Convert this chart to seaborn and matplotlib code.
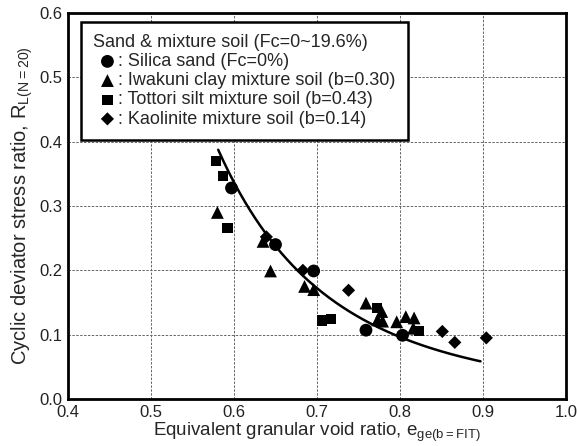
import numpy as np
import pandas as pd
import matplotlib
matplotlib.use("Agg")
import matplotlib.pyplot as plt
import seaborn as sns

# Silica sand (Fc=0%)
silica_e = [0.597, 0.650, 0.696, 0.759, 0.803]
silica_r = [0.328, 0.240, 0.199, 0.107, 0.099]

# Iwakuni clay mixture soil (b=0.30)
iwakuni_e = [0.580, 0.635, 0.644, 0.685, 0.696, 0.759, 0.778, 0.773, 0.779,
             0.796, 0.807, 0.817, 0.816]
iwakuni_r = [0.290, 0.245, 0.199, 0.175, 0.170, 0.149, 0.136, 0.123, 0.121,
             0.120, 0.128, 0.126, 0.110]

# Tottori silt mixture soil (b=0.43)
tottori_e = [0.578, 0.587, 0.592, 0.706, 0.717, 0.772, 0.823]
tottori_r = [0.370, 0.347, 0.266, 0.122, 0.124, 0.141, 0.106]

# Kaolinite mixture soil (b=0.14)
kaolin_e = [0.639, 0.683, 0.738, 0.851, 0.866, 0.904]
kaolin_r = [0.252, 0.200, 0.169, 0.105, 0.088, 0.095]

labels = [": Silica sand (Fc=0%)",
          ": Iwakuni clay mixture soil (b=0.30)",
          ": Tottori silt mixture soil (b=0.43)",
          ": Kaolinite mixture soil (b=0.14)"]
legend_title = "Sand & mixture soil (Fc=0~19.6%)"

# Power-law trend R = a * e^b
fit_a, fit_b = 0.0365, -4.35
fit_range = (0.581, 0.897)

x_ticks = [0.4, 0.5, 0.6, 0.7, 0.8, 0.9, 1.0]
y_ticks = [0.0, 0.1, 0.2, 0.3, 0.4, 0.5, 0.6]

sns.set_style("white")
plt.rcParams["font.family"] = ["Liberation Sans", "DejaVu Sans"]
plt.rcParams["mathtext.fontset"] = "custom"
plt.rcParams["mathtext.rm"] = "Liberation Sans"

df = pd.concat([
    pd.DataFrame({"e": silica_e, "R": silica_r, "soil": labels[0]}),
    pd.DataFrame({"e": iwakuni_e, "R": iwakuni_r, "soil": labels[1]}),
    pd.DataFrame({"e": tottori_e, "R": tottori_r, "soil": labels[2]}),
    pd.DataFrame({"e": kaolin_e, "R": kaolin_r, "soil": labels[3]}),
], ignore_index=True)

fig = plt.figure(figsize=(5.77, 4.46), dpi=100)
ax = fig.add_axes([68 / 577, 47 / 446, 498 / 577, 386 / 446])

markers = {labels[0]: "o", labels[1]: "^", labels[2]: "s", labels[3]: "D"}
sizes = {labels[0]: 85, labels[1]: 85, labels[2]: 55, labels[3]: 45}
for lab in labels:
    sub = df[df["soil"] == lab]
    sns.scatterplot(data=sub, x="e", y="R", marker=markers[lab], s=sizes[lab],
                    color="black", edgecolor="none", ax=ax, label=lab, zorder=3)

xf = np.linspace(fit_range[0], fit_range[1], 200)
ax.plot(xf, fit_a * xf ** fit_b, color="black", lw=1.8, zorder=2)

ax.set_xlim(0.4, 1.0)
ax.set_ylim(0.0, 0.6)
ax.set_xticks(x_ticks)
ax.set_yticks(y_ticks)
ax.set_xticklabels([f"{v:.1f}" for v in x_ticks])
ax.set_yticklabels([f"{v:.1f}" for v in y_ticks])
ax.tick_params(length=0, labelsize=12, colors="#222222", pad=4)
ax.grid(True, color="#666666", ls=(0, (2.5, 1.5)), lw=0.7)
for sp in ax.spines.values():
    sp.set_color("black")
    sp.set_linewidth(2.0)

ax.set_xlabel(r"Equivalent granular void ratio, e$_{\mathregular{ge(b=FIT)}}$",
              fontsize=13.5, labelpad=1)
ax.set_ylabel(r"Cyclic deviator stress ratio, R$_{\mathregular{L(N=20)}}$",
              fontsize=14.5, labelpad=3)

leg = ax.legend(title=legend_title, loc="upper left",
                bbox_to_anchor=(0.0255, 0.9775), borderaxespad=0,
                fontsize=13, title_fontsize=13, frameon=True, fancybox=False,
                handletextpad=-0.2, handlelength=1.6, labelspacing=0.12,
                borderpad=0.68, markerscale=1.0)
leg._legend_box.align = "left"
leg.get_frame().set_edgecolor("black")
leg.get_frame().set_linewidth(1.8)
leg.get_frame().set_alpha(1)

fig.savefig("out.png", dpi=100)
